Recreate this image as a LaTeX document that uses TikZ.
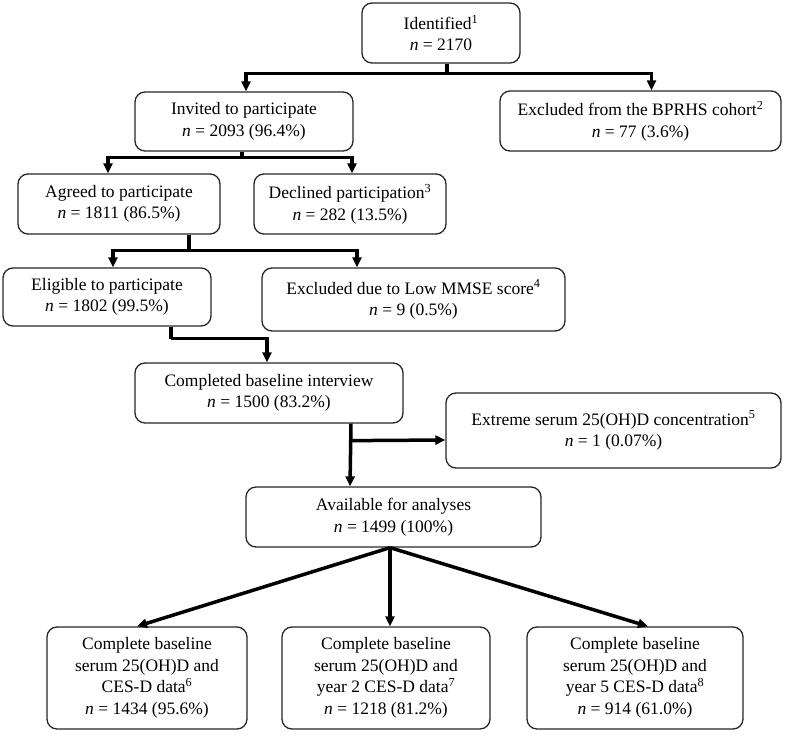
\documentclass[tikz,border=0pt]{standalone}
\usepackage{fontspec}
\setmainfont{Liberation Serif}
\usetikzlibrary{arrows.meta,positioning}
\tikzset {
    style box/.style={
        draw=black!85,
        line width=1.3pt,
        rectangle, % rounded boxes
        rounded corners=10pt,
        inner sep=0pt,
        align=center,
        font=\fontsize{17.5}{21.5}\selectfont,
    },
    style line/.style={
        draw=black,
        line width=3.5pt,
    },
    style link/.style={
        style line,
        -{Triangle[length=10pt,width=9pt]},
    },
}

\begin{document}
\begin{tikzpicture}[x=1pt, y=-1pt]
\useasboundingbox (0,0) rectangle (788,735);

\node[style box, minimum width=158pt, minimum height=60pt] at (441, 33) (ident) {Identified\textsuperscript{1}\\\textit{n} = 2170};
\node[style box, minimum width=218pt, minimum height=59pt] at (244, 121.5) (invited) {Invited to participate\\\textit{n} = 2093 (96.4\%)};
\node[style box, minimum width=281pt, minimum height=60pt] at (640.5, 121) (exclB) {Excluded from the BPRHS cohort\textsuperscript{2}\\\textit{n} = 77 (3.6\%)};
\node[style box, minimum width=202pt, minimum height=60pt] at (119, 204) (agreed) {Agreed to participate\\\textit{n} = 1811 (86.5\%)};
\node[style box, minimum width=192pt, minimum height=60pt] at (350, 204) (declined) {Declined participation\textsuperscript{3}\\\textit{n} = 282 (13.5\%)};
\node[style box, minimum width=208pt, minimum height=58pt] at (107, 297) (eligible) {Eligible to participate\\\textit{n} = 1802 (99.5\%)};
\node[style box, minimum width=303pt, minimum height=63pt] at (413.5, 299.5) (mmse) {Excluded due to Low MMSE score\textsuperscript{4}\\\textit{n} = 9 (0.5\%)};
\node[style box, minimum width=268pt, minimum height=60pt] at (269, 393) (completed) {Completed baseline interview\\\textit{n} = 1500 (83.2\%)};
\node[style box, minimum width=335pt, minimum height=75pt] at (613.5, 430.5) (extreme) {Extreme serum 25(OH)D concentration\textsuperscript{5}\\\textit{n} = 1 (0.07\%)};
\node[style box, minimum width=295pt, minimum height=60pt] at (393.5, 517) (avail) {Available for analyses\\\textit{n} = 1499 (100\%)};
\node[style box, minimum width=200pt, minimum height=102pt] at (147, 678) (cesd) {Complete baseline\\serum 25(OH)D and\\CES-D data\textsuperscript{6}\\\textit{n} = 1434 (95.6\%)};
\node[style box, minimum width=208pt, minimum height=102pt] at (386, 678) (cesdA) {Complete baseline\\serum 25(OH)D and\\year 2 CES-D data\textsuperscript{7}\\\textit{n} = 1218 (81.2\%)};
\node[style box, minimum width=216pt, minimum height=102pt] at (635, 678) (cesdB) {Complete baseline\\serum 25(OH)D and\\year 5 CES-D data\textsuperscript{8}\\\textit{n} = 914 (61.0\%)};

% split points
\coordinate (splitIdent) at ([xshift=6pt, yshift=-10pt]ident.south);
\coordinate (splitInvited) at ([xshift=-2pt, yshift=-6pt]invited.south);
\coordinate (splitAgreed) at ([xshift=70pt, yshift=-16pt]agreed.south);
\coordinate (splitEligible) at ([xshift=64pt, yshift=-12pt]eligible.south);
\coordinate (splitCompleted) at ([xshift=82pt, yshift=-17pt]completed.south);
\coordinate (splitAvail) at ([xshift=-3.5pt]avail.south);

\draw[style line] ([xshift=6pt]ident.south) -- (splitIdent);
\draw[style link] (splitIdent) -| ([xshift=2pt]invited.north);
\draw[style link] (splitIdent) -| ([xshift=11pt]exclB.north);

\draw[style line] ([xshift=-2pt]invited.south) -- (splitInvited);
\draw[style link] (splitInvited) -| ([xshift=-11pt]agreed.north);
\draw[style link] (splitInvited) -| ([xshift=2pt]declined.north);

\draw[style line] ([xshift=70pt]agreed.south) -- (splitAgreed);
\draw[style link] (splitAgreed) -| ([xshift=6pt]eligible.north);
\draw[style link] (splitAgreed) -| ([xshift=-56.5pt]mmse.north);

\draw[style line] ([xshift=64pt]eligible.south) -- (splitEligible);
\draw[style link] (splitEligible) -| ([xshift=-2pt]completed.north);

\draw[style link] ([xshift=82pt]completed.south) -- ([xshift=-43.5pt]avail.north);
\draw[style link] (splitCompleted) -- ([yshift=-9.5pt]extreme.west);

\draw[style link] (splitAvail) -- ([xshift=-10pt]cesd.north);
\draw[style link] (splitAvail) -- ([xshift=4pt]cesdA.north);
\draw[style link] (splitAvail) -- ([xshift=13pt]cesdB.north);
\end{tikzpicture}
\end{document}
